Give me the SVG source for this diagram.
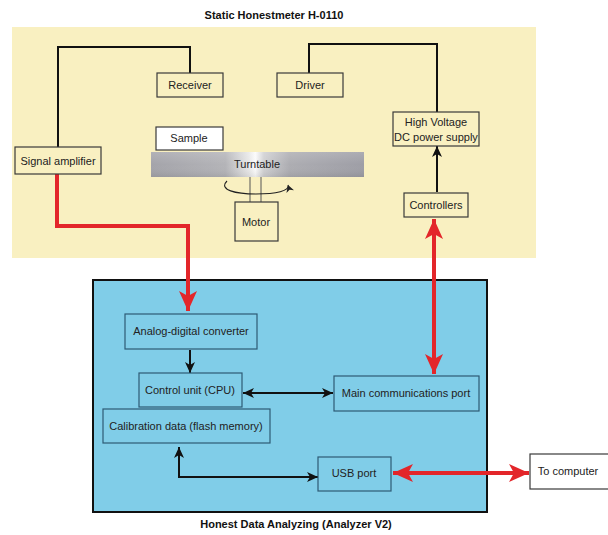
<svg xmlns="http://www.w3.org/2000/svg" width="608" height="535" viewBox="0 0 608 535">
<defs>
<linearGradient id="tt" x1="0" y1="0" x2="1" y2="0">
<stop offset="0" stop-color="#a4a4aa"/>
<stop offset="0.35" stop-color="#b4b4b8"/>
<stop offset="0.46" stop-color="#e8e8e8"/>
<stop offset="0.49" stop-color="#fbfbfb"/>
<stop offset="0.53" stop-color="#d0d0d2"/>
<stop offset="0.65" stop-color="#adadb2"/>
<stop offset="1" stop-color="#9e9ea6"/>
</linearGradient>
<linearGradient id="ttv" x1="0" y1="0" x2="0" y2="1">
<stop offset="0" stop-color="#fff" stop-opacity="0.15"/>
<stop offset="0.5" stop-color="#fff" stop-opacity="0"/>
<stop offset="1" stop-color="#000" stop-opacity="0.08"/>
</linearGradient>
<marker id="rEnd" markerUnits="userSpaceOnUse" markerWidth="22" markerHeight="20" refX="20" refY="10" orient="auto-start-reverse" viewBox="0 0 22 20">
<path d="M0,1 L20,10 L0,19 L5,10 Z" fill="#e3262a"/>
</marker>
<marker id="bEnd" markerUnits="userSpaceOnUse" markerWidth="12" markerHeight="12" refX="11" refY="6" orient="auto-start-reverse" viewBox="0 0 12 12">
<path d="M0,1 L11,6 L0,11 L3,6 Z" fill="#111"/>
</marker>
<marker id="sEnd" markerUnits="userSpaceOnUse" markerWidth="8" markerHeight="8" refX="7" refY="4" orient="auto" viewBox="0 0 8 8">
<path d="M0,0 L7,4 L0,8 L2,4 Z" fill="#222"/>
</marker>
</defs>
<style>
text{font-family:"Liberation Sans",Arial,sans-serif;font-size:11px;fill:#222;text-anchor:middle;dominant-baseline:central}
.title{font-weight:bold;font-size:11px;fill:#111}
.yb{fill:none;stroke:#3a3a3a;stroke-width:1.2}
.bb{fill:none;stroke:#2d5a74;stroke-width:1.2}
.blk{fill:none;stroke:#111;stroke-width:2}
.red{fill:none;stroke:#e3262a;stroke-width:4}
</style>
<rect width="608" height="535" fill="#fff"/>
<text class="title" x="274" y="15">Static Honestmeter H-0110</text>
<rect x="12" y="27" width="524" height="231" fill="#f9f0c1"/>
<rect x="93" y="280" width="394" height="232" fill="#80cde8" stroke="#111" stroke-width="2"/>
<text class="title" x="296" y="524">Honest Data Analyzing (Analyzer V2)</text>

<g id="connectors">
<path class="blk" d="M58,147 V47 H190 V73"/>
<path class="blk" d="M309,73 V44 H437 V112"/>
<path class="blk" d="M437,192 V146" marker-end="url(#bEnd)"/>
<path class="red" d="M57,174 V226 H188 V311" marker-end="url(#rEnd)"/>
<path class="red" d="M434,219 V374" marker-start="url(#rEnd)" marker-end="url(#rEnd)"/>
<path class="blk" d="M190,350 V373" marker-end="url(#bEnd)"/>
<path class="blk" d="M243,393 H333" marker-start="url(#bEnd)" marker-end="url(#bEnd)"/>
<path class="blk" d="M179,447 V477 H318" marker-start="url(#bEnd)" marker-end="url(#bEnd)"/>
<path class="red" d="M393,473 H529" marker-start="url(#rEnd)" marker-end="url(#rEnd)"/>
</g>

<g id="receiver"><rect class="yb" x="157" y="73" width="66" height="24"/><text x="190" y="85">Receiver</text></g>
<g id="driver"><rect class="yb" x="277" y="73" width="66" height="24"/><text x="310" y="85">Driver</text></g>
<g id="signal-amplifier"><rect class="yb" x="15" y="147" width="86" height="27"/><text x="58" y="161">Signal amplifier</text></g>
<g id="sample"><rect x="156" y="127" width="67" height="23" fill="#fff" stroke="#3a3a3a" stroke-width="1.2"/><text x="189" y="138">Sample</text></g>
<g id="turntable">
<rect x="151" y="152" width="213" height="25" fill="url(#tt)"/>
<rect x="151" y="152" width="213" height="25" fill="url(#ttv)"/>
<text x="257" y="164">Turntable</text>
</g>
<g id="shaft">
<line x1="250" y1="177" x2="250" y2="202" stroke="#555" stroke-width="1"/>
<line x1="261" y1="177" x2="261" y2="202" stroke="#555" stroke-width="1"/>
<path d="M227,181 C218,190 236,194 256,194 C276,194 290,191 288,185" fill="none" stroke="#222" stroke-width="1.1" marker-end="url(#sEnd)"/>
</g>
<g id="motor"><rect class="yb" x="235" y="202" width="43" height="39"/><text x="256" y="222">Motor</text></g>
<g id="hv-supply"><rect class="yb" x="393" y="112" width="86" height="34"/><text x="436" y="122">High Voltage</text><text x="436" y="137">DC power supply</text></g>
<g id="controllers"><rect class="yb" x="404" y="193" width="64" height="24"/><text x="436" y="205">Controllers</text></g>

<g id="adc"><rect class="bb" x="125" y="314" width="132" height="35"/><text x="191" y="331">Analog-digital converter</text></g>
<g id="cpu"><rect class="bb" x="139" y="373" width="103" height="34"/><text x="190" y="390">Control unit (CPU)</text></g>
<g id="main-port"><rect class="bb" x="334" y="376" width="145" height="35"/><text x="406" y="393">Main communications port</text></g>
<g id="calibration"><rect class="bb" x="103" y="409" width="167" height="34"/><text x="186" y="426">Calibration data (flash memory)</text></g>
<g id="usb"><rect class="bb" x="318" y="457" width="73" height="34"/><text x="354" y="473">USB port</text></g>
<g id="computer"><rect x="530" y="454" width="80" height="35" fill="#fff" stroke="#3a3a3a" stroke-width="1.2"/><text x="568" y="471">To computer</text></g>
</svg>
